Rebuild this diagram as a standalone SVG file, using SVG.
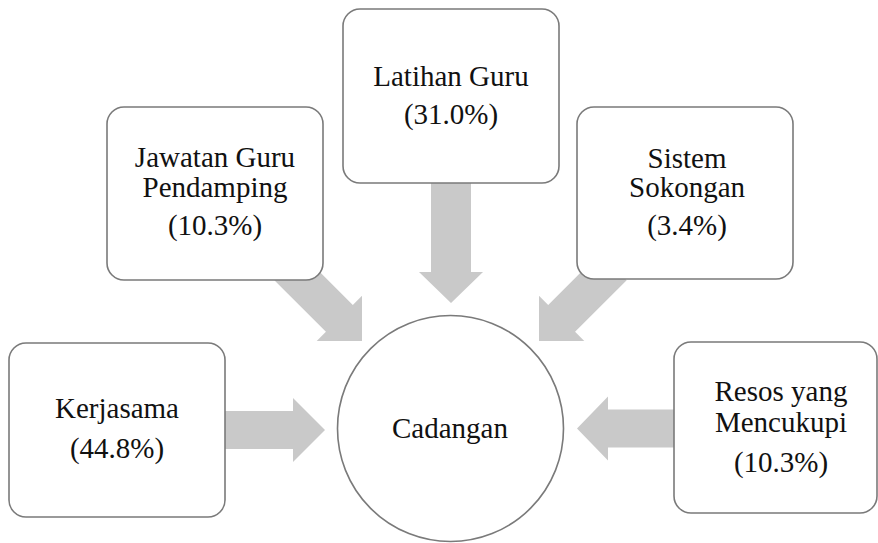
<svg xmlns="http://www.w3.org/2000/svg" width="878" height="543" viewBox="0 0 878 543">
  <style>
    .box { fill: #ffffff; stroke: #7a7a7a; stroke-width: 1.6; }
    .arrow { fill: #c9c9c9; stroke: none; }
    .lbl { font-family: "Liberation Serif", "Times New Roman", serif; font-size: 29px; fill: #111111; text-anchor: middle; }
  </style>
  <rect width="878" height="543" fill="#ffffff"/>
  <g id="connectors">
    <polygon class="arrow" transform="translate(362,341) rotate(45)" points="-105,-19 -32,-19 -32,-32 0,0 -32,32 -32,19 -105,19"/>
    <polygon class="arrow" transform="translate(539,341) rotate(135)" points="-105,-19 -32,-19 -32,-32 0,0 -32,32 -32,19 -105,19"/>
    <polygon class="arrow" transform="translate(451,303) rotate(90)" points="-121,-20 -31,-20 -31,-32 0,0 -31,32 -31,20 -121,20"/>
    <polygon class="arrow" transform="translate(325,430) rotate(0)" points="-100,-19 -32,-19 -32,-32 0,0 -32,32 -32,19 -100,19"/>
    <polygon class="arrow" transform="translate(577,428.5) rotate(180)" points="-98,-19 -31,-19 -31,-32 0,0 -31,32 -31,19 -98,19"/>
  </g>
  <g id="node-jawatan">
    <rect class="box" x="107" y="107" width="216" height="173" rx="17"/>
    <text class="lbl" x="215" y="167">Jawatan Guru</text>
    <text class="lbl" x="215" y="197">Pendamping</text>
    <text class="lbl" x="215" y="235">(10.3%)</text>
  </g>
  <g id="node-latihan">
    <rect class="box" x="343" y="9" width="216" height="174" rx="17"/>
    <text class="lbl" x="451" y="86">Latihan Guru</text>
    <text class="lbl" x="451" y="124">(31.0%)</text>
  </g>
  <g id="node-sistem">
    <rect class="box" x="577" y="107" width="216" height="172" rx="17"/>
    <text class="lbl" x="687" y="168">Sistem</text>
    <text class="lbl" x="687" y="197">Sokongan</text>
    <text class="lbl" x="687" y="235">(3.4%)</text>
  </g>
  <g id="node-kerjasama">
    <rect class="box" x="9" y="343" width="216" height="174" rx="17"/>
    <text class="lbl" x="117" y="418">Kerjasama</text>
    <text class="lbl" x="117" y="458">(44.8%)</text>
  </g>
  <g id="node-resos">
    <rect class="box" x="674" y="342" width="203" height="171" rx="17"/>
    <text class="lbl" x="781" y="401">Resos yang</text>
    <text class="lbl" x="781" y="432">Mencukupi</text>
    <text class="lbl" x="781" y="472">(10.3%)</text>
  </g>
  <g id="node-cadangan">
    <circle class="box" cx="450.5" cy="428.5" r="113"/>
    <text class="lbl" x="450" y="438">Cadangan</text>
  </g>
</svg>
